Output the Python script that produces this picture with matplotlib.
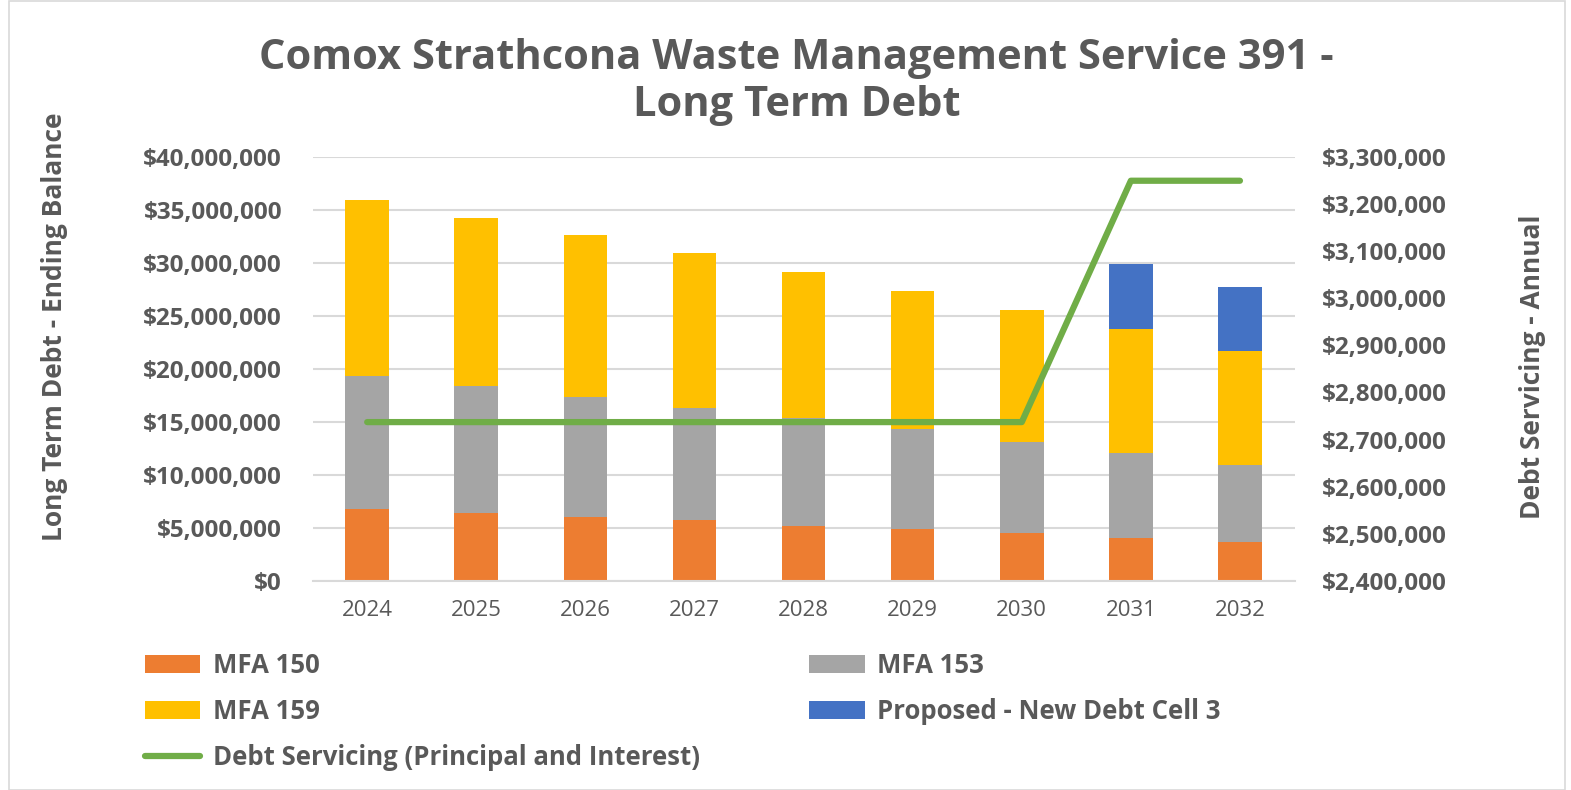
import numpy as np
import matplotlib
matplotlib.use('Agg')
import matplotlib.pyplot as plt
from matplotlib.ticker import FuncFormatter


years = ['2024', '2025', '2026', '2027', '2028', '2029', '2030', '2031', '2032']
mfa150 = [6.74, 6.40, 6.02, 5.71, 5.20, 4.86, 4.48, 4.03, 3.68]
mfa153 = [12.60, 11.99, 11.31, 10.63, 10.20, 9.47, 8.65, 8.06, 7.22]
mfa159 = [16.60, 15.90, 15.30, 14.59, 13.76, 13.07, 12.47, 11.66, 10.80]
proposed = [0, 0, 0, 0, 0, 0, 0, 6.14, 6.08]
servicing = [2737000, 2737000, 2737000, 2737000, 2737000, 2737000, 2737000, 3250000, 3250000]

textGrey = '#595959'
fontMain = ['Open Sans', 'DejaVu Sans']


def money(v, pos):
    return '${:,.0f}'.format(v)


fig = plt.figure(figsize=(15.71, 7.90), dpi=100)
ax = fig.add_axes([0.199, 0.265, 0.625, 0.536])
ax2 = ax.twinx()

x = np.arange(len(years))
width = 0.4
scale = 1e6
b150 = np.array(mfa150) * scale
b153 = np.array(mfa153) * scale
b159 = np.array(mfa159) * scale
bProp = np.array(proposed) * scale

h150 = ax.bar(x, b150, width, color='#ed7d31', label='MFA 150', zorder=2)
h153 = ax.bar(x, b153, width, bottom=b150, color='#a5a5a5', label='MFA 153', zorder=2)
h159 = ax.bar(x, b159, width, bottom=b150 + b153, color='#ffc000', label='MFA 159', zorder=2)
hProp = ax.bar(x, bProp, width, bottom=b150 + b153 + b159, color='#4472c4',
               label='Proposed - New Debt Cell 3', zorder=2)
hLine, = ax2.plot(x, servicing, color='#70ad47', lw=4.5, solid_capstyle='round',
                  label='Debt Servicing (Principal and Interest)')

ax.set_xlim(-0.5, len(years) - 0.5)
ax.set_ylim(0, 40e6)
ax.set_yticks(np.arange(0, 40e6 + 1, 5e6))
ax.yaxis.set_major_formatter(FuncFormatter(money))
ax2.set_ylim(2.4e6, 3.3e6)
ax2.set_yticks(np.arange(2.4e6, 3.3e6 + 1, 1e5))
ax2.yaxis.set_major_formatter(FuncFormatter(money))

ax.grid(axis='y', color='#d9d9d9', lw=1.5, zorder=0)
ax.set_axisbelow(True)
for a in (ax, ax2):
    for s in a.spines.values():
        s.set_visible(False)
    a.tick_params(length=0)
ax.spines['bottom'].set_visible(True)
ax.spines['bottom'].set_color('#d9d9d9')
ax.spines['bottom'].set_linewidth(1.5)

ax.set_xticks(x)
ax.set_xticklabels(years, fontsize=16, color=textGrey, family=fontMain)
ax.tick_params(axis='x', pad=14)
for lbl in ax.get_yticklabels() + ax2.get_yticklabels():
    lbl.set_fontsize(17.5)
    lbl.set_fontweight('bold')
    lbl.set_color(textGrey)
    lbl.set_family(fontMain)
ax.tick_params(axis='y', pad=22)
ax2.tick_params(axis='y', pad=20)

ax.set_ylabel('Long Term Debt - Ending Balance', fontsize=19, color=textGrey,
              family=fontMain, fontweight='bold')
ax.yaxis.set_label_coords(-0.2495, 0.60)
ax2.set_ylabel('Debt Servicing - Annual', fontsize=19, color=textGrey,
               family=fontMain, fontweight='bold')
ax2.yaxis.set_label_coords(1.229, 0.505)

fig.suptitle('Comox Strathcona Waste Management Service 391 -\nLong Term Debt',
             x=0.507, y=0.952, fontsize=30, fontweight='bold', color=textGrey,
             family=fontMain, linespacing=1.2)

handles = [h150, h159, hLine, h153, hProp]
labels = [h.get_label() for h in handles]
leg = fig.legend(handles, labels, ncol=2, loc='upper left', bbox_to_anchor=(0.084, 0.191),
                 frameon=False, borderpad=0, handlelength=2.15, handletextpad=0.5,
                 labelspacing=0.74, columnspacing=4.26,
                 prop={'family': fontMain, 'size': 18.5, 'weight': 'bold'})
for t in leg.get_texts():
    t.set_color(textGrey)

fig.patches.append(plt.Rectangle((0.006, 0.0), 0.99, 0.999, transform=fig.transFigure,
                                 fill=False, edgecolor='#d9d9d9', lw=1.2))

fig.savefig('out.png', dpi=100, facecolor='white')
